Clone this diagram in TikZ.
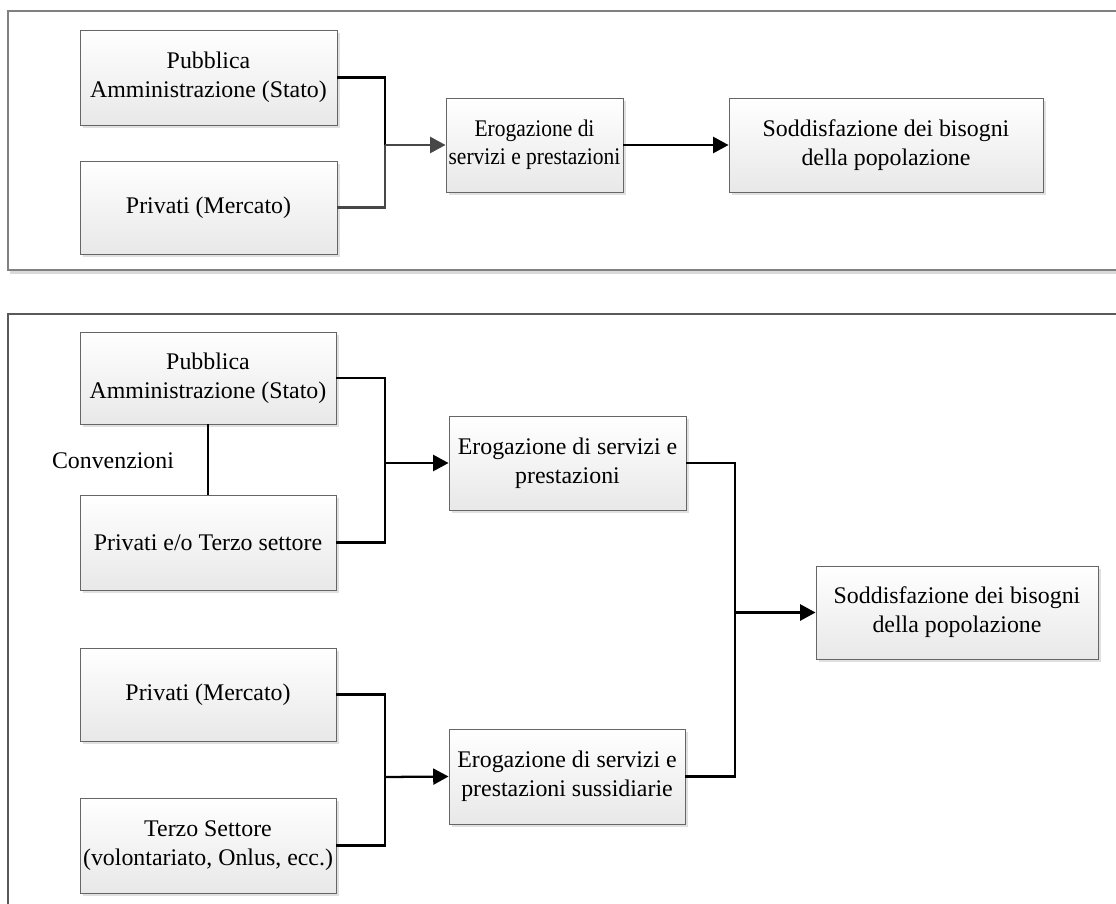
\documentclass[tikz,border=0pt]{standalone}
\usepackage{fontspec}
\setmainfont{Liberation Serif}
\usetikzlibrary{arrows.meta,shadows}
\begin{document}
\begin{tikzpicture}[x=0.75pt,y=-0.75pt,
  frame/.style={draw=black!50, line width=0.9pt},
  box/.style={rectangle, draw=black!60, line width=0.7pt, top color=white, bottom color=black!9,
    drop shadow={shadow xshift=2.5pt, shadow yshift=-2.5pt, fill=black!12, opacity=1},
    align=center, font=\fontsize{17.9}{21.7}\selectfont, inner sep=0pt},
  conn/.style={line width=1.7pt, draw=black},
  gconn/.style={line width=1.7pt, draw=black!72},
  arr/.style={-{Triangle[length=11.5pt,width=12pt]}},
  lbl/.style={font=\fontsize{17.9}{21.7}\selectfont, inner sep=0pt}]
\useasboundingbox (0,0) rectangle (1116,903);
\clip (0,0) rectangle (1116,903);
% frames
\fill[black!15] (10,270) rectangle (1130,274);
\draw[frame] (8,11) rectangle (1130,270);
\draw[frame, draw=black!65] (8,314) rectangle (1130,920);
% top section
\node[box, minimum width=257*0.75pt, minimum height=95*0.75pt] (tpa) at (208.5,77.5) {Pubblica\\Amministrazione (Stato)};
\node[box, minimum width=257*0.75pt, minimum height=93*0.75pt] (tpm) at (208.5,207.5) {Privati (Mercato)};
\node[box, minimum width=177*0.75pt, minimum height=94*0.75pt] (ter) at (534.5,145) {\scalebox{0.9}[1]{\begin{tabular}{@{}c@{}}\fontsize{17.9}{21.7}\selectfont Erogazione di\\[-1pt]\fontsize{17.9}{21.7}\selectfont servizi e prestazioni\end{tabular}}};
\node[box, minimum width=314*0.75pt, minimum height=94*0.75pt] (tso) at (886,145) {Soddisfazione dei bisogni\\della popolazione};
\coordinate (j1) at (385,145);
\draw[conn] (tpa.east) -| (j1);
\draw[gconn] (tpm.east) -| (j1);
\draw[gconn, arr] (j1) -- (ter.west);
\draw[conn, arr] (ter.east) -- (tso.west);
% bottom section
\node[box, minimum width=256*0.75pt, minimum height=92*0.75pt] (bpa) at (208,378) {Pubblica\\Amministrazione (Stato)};
\node[box, minimum width=256*0.75pt, minimum height=95*0.75pt] (bpt) at (208,542.5) {Privati e/o Terzo settore};
\node[box, minimum width=237*0.75pt, minimum height=94*0.75pt] (be1) at (567.5,463) {Erogazione di servizi e\\prestazioni};
\node[box, minimum width=256*0.75pt, minimum height=93*0.75pt] (bpm) at (208,694.5) {Privati (Mercato)};
\node[box, minimum width=256*0.75pt, minimum height=95*0.75pt] (bts) at (208,845.5) {Terzo Settore\\(volontariato, Onlus, ecc.)};
\node[box, minimum width=236*0.75pt, minimum height=95*0.75pt] (be2) at (567,776.5) {Erogazione di servizi e\\prestazioni sussidiarie};
\node[box, minimum width=282*0.75pt, minimum height=93*0.75pt] (bso) at (957,612.5) {Soddisfazione dei bisogni\\della popolazione};
\draw[conn] (bpa.south) -- (bpt.north);
\node[lbl] (conv) at (113,461) {Convenzioni};
\coordinate (j2) at (385,463);
\draw[conn] (bpa.east) -| (j2);
\draw[conn] (bpt.east) -| (j2);
\draw[conn, arr] (j2) -- (be1.west);
\coordinate (j3) at (385,777);
\draw[conn] (bpm.east) -| (j3);
\draw[conn] (bts.east) -| (j3);
\draw[conn, arr] (j3) -- (be2.west);
\coordinate (j4) at (735,612.5);
\draw[conn] (be1.east) -| (j4);
\draw[conn] (be2.east) -| (j4);
\draw[conn, arr] (j4) -- (bso.west);
\end{tikzpicture}
\end{document}
